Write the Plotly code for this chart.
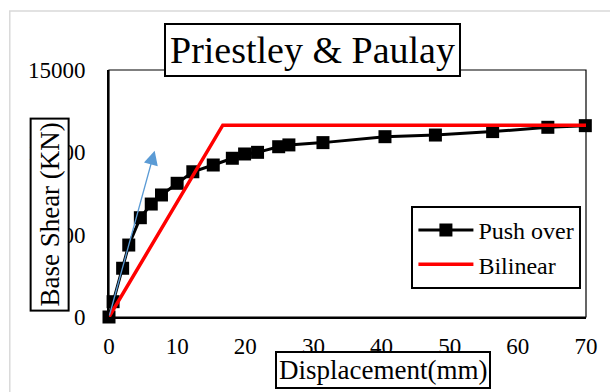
import plotly.graph_objects as go

# Pushover curve (displacement in mm, base shear in kN)
push_disp = [0, 0.6, 2.0, 2.9, 4.6, 6.2, 7.7, 10.0, 12.3, 15.3, 18.1, 19.9, 21.8, 24.9, 26.4, 31.4, 40.5, 47.9, 56.3, 64.4, 69.9]
push_shear = [0, 930, 2960, 4370, 6030, 6860, 7410, 8120, 8820, 9230, 9640, 9900, 10000, 10340, 10450, 10590, 10950, 11050, 11260, 11520, 11620]

# Idealised bilinear curve
bilin_disp = [0, 16.7, 70]
bilin_shear = [0, 11650, 11650]

# Initial stiffness arrow (tail at origin, head point)
arrow_tail = (0, 0)
arrow_head = (6.7, 10100)

x_ticks = [0, 10, 20, 30, 40, 50, 60, 70]
y_ticks = [0, 5000, 10000, 15000]
y_tick_text = ["0", "5000", "10000", "15000"]

FONT = "'Liberation Serif', 'Times New Roman', serif"

fig = go.Figure()
fig.add_trace(go.Scatter(
    x=push_disp, y=push_shear, name="Push over", mode="lines+markers",
    line=dict(color="black", width=3),
    marker=dict(symbol="square", size=13, color="black"),
    cliponaxis=False,
))
fig.add_trace(go.Scatter(
    x=bilin_disp, y=bilin_shear, name="Bilinear", mode="lines",
    line=dict(color="#ff0000", width=3.5),
    cliponaxis=False,
))

fig.add_annotation(
    x=arrow_head[0], y=arrow_head[1], ax=arrow_tail[0], ay=arrow_tail[1],
    xref="x", yref="y", axref="x", ayref="y", text="",
    showarrow=True, arrowhead=2, arrowsize=2.2, arrowwidth=1.3,
    arrowcolor="#5B9BD5", standoff=0, startstandoff=0,
)

# Boxed titles
fig.add_annotation(
    x=0.426, y=1.081, xref="paper", yref="paper", text="Priestley & Paulay",
    showarrow=False, font=dict(family=FONT, size=38, color="black"),
    bgcolor="white", bordercolor="black", borderwidth=2, borderpad=4,
    xanchor="center", yanchor="middle",
)
fig.add_annotation(
    x=-0.1245, y=0.413, xref="paper", yref="paper", text="Base Shear (KN)",
    textangle=-90, showarrow=False, font=dict(family=FONT, size=27, color="black"),
    bgcolor="white", bordercolor="black", borderwidth=2, borderpad=3,
    xanchor="center", yanchor="middle",
)
fig.add_annotation(
    x=0.575, y=-0.2146, xref="paper", yref="paper", text="Displacement(mm)",
    showarrow=False, font=dict(family=FONT, size=27, color="black"),
    bgcolor="white", bordercolor="black", borderwidth=2, borderpad=2,
    xanchor="center", yanchor="middle",
)

# Outer chart frame
fig.add_shape(type="rect", xref="paper", yref="paper",
              x0=-0.208, y0=-0.6, x1=1.2, y1=1.239,
              line=dict(color="#d9d9d9", width=1.5), layer="below")
# Plot area box (top and right edges)
fig.add_shape(type="rect", xref="paper", yref="paper",
              x0=0, y0=0, x1=1, y1=1,
              line=dict(color="black", width=1.2), layer="below")

fig.update_xaxes(
    range=[0, 70], tickvals=x_ticks, showgrid=False, zeroline=False,
    showline=True, linecolor="black", linewidth=2, ticks="",
    tickfont=dict(family=FONT, size=23, color="black"), ticklabelstandoff=7,
)
fig.update_yaxes(
    range=[0, 15000], tickvals=y_ticks, ticktext=y_tick_text,
    showgrid=False, zeroline=False,
    showline=True, linecolor="black", linewidth=2, ticks="",
    tickfont=dict(family=FONT, size=23, color="black"), ticklabelstandoff=17,
)

fig.update_layout(
    width=610, height=392,
    margin=dict(l=109, r=16, t=70, b=75),
    paper_bgcolor="white", plot_bgcolor="white",
    font=dict(family=FONT, color="black"),
    showlegend=True,
    legend=dict(
        x=0.634, y=0.45, xanchor="left", yanchor="top",
        font=dict(family=FONT, size=24, color="black"),
        bgcolor="white", bordercolor="black", borderwidth=2,
        itemwidth=55, tracegroupgap=0,
    ),
)

fig.write_html("out.html")
